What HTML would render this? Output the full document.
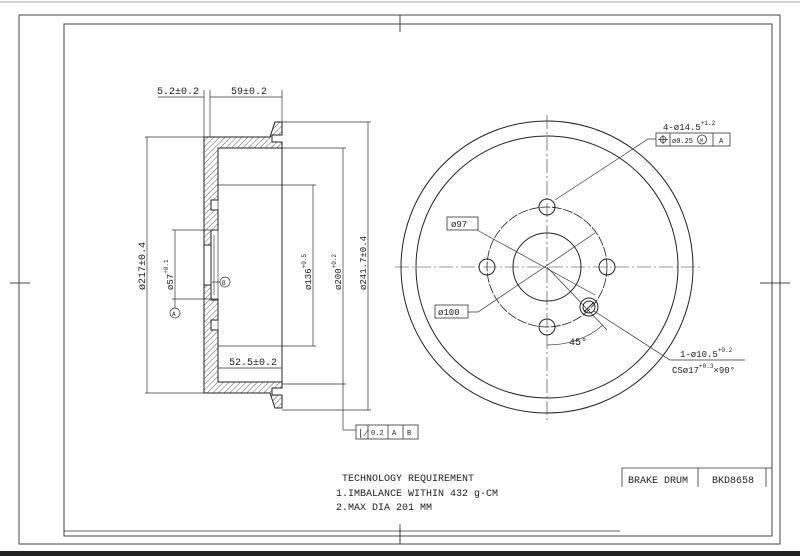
<!DOCTYPE html>
<html><head><style>
html,body{margin:0;padding:0;background:#fff;width:800px;height:556px;overflow:hidden}
svg{display:block}
text{font-family:"Liberation Mono",monospace;fill:#222}
</style></head><body>
<svg width="800" height="556" viewBox="0 0 800 556" xmlns="http://www.w3.org/2000/svg">
<defs>
<pattern id="h" width="4" height="4" patternUnits="userSpaceOnUse" patternTransform="rotate(45)">
<line x1="0" y1="0" x2="0" y2="4" stroke="#333" stroke-width="0.8"/>
</pattern>
</defs>
<rect width="800" height="556" fill="#fff"/>
<line x1="0" y1="2" x2="800" y2="2" stroke="#aaa" stroke-width="1"/>
<rect x="0" y="551" width="800" height="5" fill="#222"/>
<g fill="none" stroke="#444" stroke-width="1">
<rect x="19" y="15" width="761" height="529"/>
<rect x="64" y="24" width="708" height="512"/>
<line x1="400" y1="15" x2="400" y2="32"/>
<line x1="400" y1="528" x2="400" y2="544"/>
<line x1="10" y1="283" x2="30" y2="283"/>
<line x1="760" y1="283" x2="790" y2="283"/>
</g>

<!-- Left section view -->
<g stroke="#222" stroke-width="1">
<path d="M204,137 L270,137 L275,122 L282,122 L282,135 L272,135 L272,142 L282,142 L282,148 L218,148 L218,200 L211,200 L211,210 L218,210 L218,230 L211,230 L211,245 L204,245 Z" fill="url(#h)"/>
<path d="M204,393 L270,393 L275,408 L282,408 L282,395 L272,395 L272,388 L282,388 L282,382 L218,382 L218,330 L211,330 L211,320 L218,320 L218,300 L211,300 L211,285 L204,285 Z" fill="url(#h)"/>
<line x1="204" y1="245" x2="204" y2="285"/>
<line x1="211" y1="230" x2="211" y2="300"/>
<line x1="214" y1="235" x2="214" y2="295" stroke-width="0.6"/>
<line x1="218" y1="148" x2="218" y2="382" stroke-width="0.6"/>
<line x1="282" y1="148" x2="282" y2="382"/>
</g>
<g stroke="#333" stroke-width="0.7" fill="none">
<!-- dim/extension lines -->
<line x1="204" y1="90" x2="204" y2="137"/>
<line x1="210" y1="90" x2="210" y2="137"/>
<line x1="282" y1="90" x2="282" y2="122"/>
<line x1="158" y1="97" x2="204" y2="97"/>
<line x1="210" y1="97" x2="282" y2="97"/>
<line x1="145" y1="137" x2="204" y2="137"/>
<line x1="145" y1="393" x2="204" y2="393"/>
<line x1="147" y1="137" x2="147" y2="393"/>
<line x1="172" y1="230" x2="218" y2="230"/>
<line x1="172" y1="299" x2="218" y2="299"/>
<line x1="175" y1="230" x2="175" y2="299"/>
<line x1="218" y1="185" x2="316" y2="185"/>
<line x1="218" y1="346" x2="316" y2="346"/>
<line x1="313" y1="185" x2="313" y2="346"/>
<line x1="282" y1="148" x2="346" y2="148"/>
<line x1="282" y1="384" x2="346" y2="384"/>
<line x1="343" y1="148" x2="343" y2="430"/>
<line x1="282" y1="122" x2="371" y2="122"/>
<line x1="282" y1="410" x2="371" y2="410"/>
<line x1="368" y1="122" x2="368" y2="410"/>
<line x1="218" y1="368" x2="282" y2="368"/>
<line x1="343" y1="430" x2="356" y2="430"/>
<line x1="175" y1="299" x2="175" y2="308"/>
<circle cx="175" cy="313" r="5"/>
<line x1="212" y1="282" x2="220" y2="282"/>
<circle cx="225" cy="282" r="5"/>
</g>
<text x="157" y="94" font-size="10">5.2±0.2</text>
<text x="231" y="94" font-size="10">59±0.2</text>
<text x="229" y="365" font-size="10">52.5±0.2</text>
<text font-size="10" transform="translate(145,290) rotate(-90)">ø217±0.4</text>
<text font-size="9" transform="translate(173,290) rotate(-90)">ø57<tspan font-size="6" dy="-5">+0.1</tspan></text>
<text font-size="9" transform="translate(311,290) rotate(-90)">ø136<tspan font-size="6" dy="-5">+0.5</tspan></text>
<text font-size="9" transform="translate(341,290) rotate(-90)">ø200<tspan font-size="6" dy="-5">+0.2</tspan></text>
<text font-size="9" transform="translate(366,290) rotate(-90)">ø241.7±0.4</text>
<text x="172" y="316" font-size="6">A</text>
<text x="222" y="285" font-size="6">B</text>
<g stroke="#333" stroke-width="0.8" fill="none">
<rect x="356" y="425" width="62" height="14"/>
<line x1="368" y1="425" x2="368" y2="439"/>
<line x1="388" y1="425" x2="388" y2="439"/>
<line x1="403" y1="425" x2="403" y2="439"/>
</g>
<text x="358" y="436" font-size="9">∤</text>
<text x="371" y="435" font-size="7">0.2</text>
<text x="392" y="435" font-size="7">A</text>
<text x="407" y="435" font-size="7">B</text>

<!-- Right front view -->
<g stroke="#222" stroke-width="1" fill="none">
<circle cx="547" cy="267" r="146"/>
<circle cx="547" cy="267" r="131"/>
<circle cx="547" cy="267" r="60" stroke-dasharray="10,1.5" stroke-width="0.8"/>
<circle cx="547" cy="267" r="34"/>
<circle cx="547" cy="207" r="8"/>
<circle cx="547" cy="327" r="8"/>
<circle cx="487" cy="267" r="8"/>
<circle cx="607" cy="267" r="8"/>
<circle cx="589" cy="307" r="9"/>
<circle cx="589" cy="307" r="6"/>
<line x1="584" y1="312" x2="594" y2="302"/>
</g>
<g stroke="#333" stroke-width="0.6" fill="none" stroke-dasharray="14,3,2,3">
<line x1="547" y1="115" x2="547" y2="420"/>
<line x1="395" y1="267" x2="700" y2="267"/>
</g>
<g stroke="#333" stroke-width="0.7" fill="none">
<line x1="547" y1="267" x2="607" y2="330"/>
<path d="M547,345 Q580,345 603,325"/>
<polyline points="656,139 648,139 555,200"/>
<polyline points="477,230 595,295"/>
<polyline points="468,312 478,312 595,233"/>
<polyline points="745,360 670,360 594,311"/>
</g>
<g stroke="#333" stroke-width="0.8" fill="none">
<rect x="656" y="133" width="74" height="13"/>
<line x1="670" y1="133" x2="670" y2="146"/>
<line x1="713" y1="133" x2="713" y2="146"/>
<circle cx="702" cy="139.5" r="4.5"/>
<circle cx="663" cy="139.5" r="3"/>
<line x1="658" y1="139.5" x2="668" y2="139.5"/>
<line x1="663" y1="135" x2="663" y2="144"/>
<rect x="447" y="217" width="31" height="13"/>
<rect x="435" y="305" width="33" height="13"/>
</g>
<text x="663" y="130" font-size="9">4-ø14.5<tspan font-size="6" dy="-5">+1.2</tspan></text>
<text x="672" y="143" font-size="7">ø0.25</text>
<text x="700" y="142" font-size="5">M</text>
<text x="719" y="143" font-size="7">A</text>
<text x="451" y="227" font-size="9">ø97</text>
<text x="438" y="315" font-size="9">ø100</text>
<text x="569" y="345" font-size="10">45°</text>
<text x="680" y="357" font-size="9">1-ø10.5<tspan font-size="6" dy="-5">+0.2</tspan></text>
<text x="672" y="373" font-size="9">CSø17<tspan font-size="6" dy="-5">+0.3</tspan><tspan font-size="9" dy="5">×90°</tspan></text>

<!-- Notes & title -->
<text x="342" y="481" font-size="10">TECHNOLOGY REQUIREMENT</text>
<text x="336" y="496" font-size="10">1.IMBALANCE WITHIN 432 g·CM</text>
<text x="336" y="510" font-size="10">2.MAX DIA 201 MM</text>
<g stroke="#333" stroke-width="0.8" fill="none">
<polyline points="622,487 622,468 772,468"/>
<line x1="698" y1="468" x2="698" y2="487"/>
<line x1="766" y1="468" x2="766" y2="487"/>
<line x1="64" y1="531" x2="620" y2="531"/>
<line x1="400" y1="524" x2="400" y2="542"/>
</g>
<text x="628" y="483" font-size="10">BRAKE DRUM</text>
<text x="712" y="483" font-size="10">BKD8658</text>
</svg>
</body></html>
